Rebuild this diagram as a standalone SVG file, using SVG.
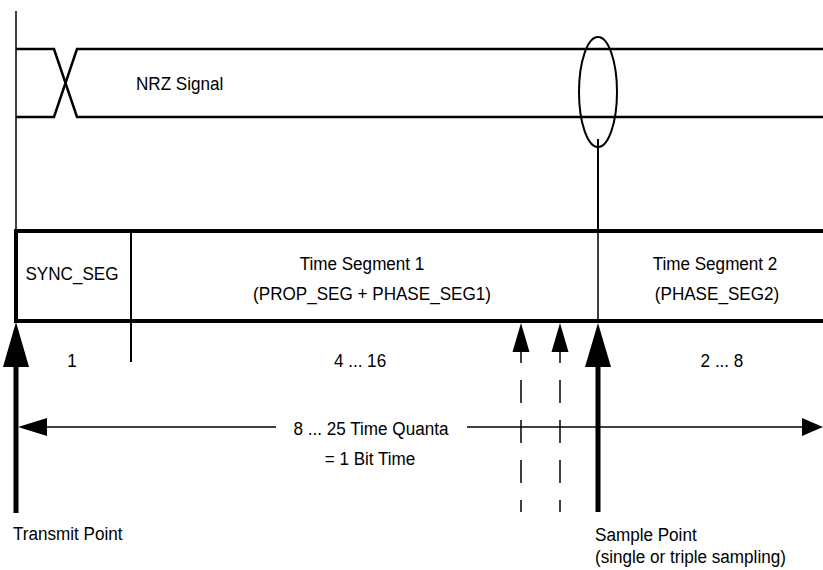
<svg xmlns="http://www.w3.org/2000/svg" width="823" height="570" viewBox="0 0 823 570">
<style>
  .t { font-family: "Liberation Sans", Arial, sans-serif; font-size: 19px; fill: #000; }
  .m { text-anchor: middle; }
  .ln { stroke: #000; fill: none; }
  .head { fill: #000; stroke: none; }
</style>
<rect width="823" height="570" fill="#fff"/>
<g id="signal">
  <line class="ln" x1="16" y1="11" x2="16" y2="231" stroke-width="1.5"/>
  <path class="ln" d="M16,49 H54 L77,117 H823" stroke-width="2.5"/>
  <path class="ln" d="M16,117 H54 L77,49 H823" stroke-width="2.5"/>
  <text class="t" transform="translate(136,90) scale(0.9,1)">NRZ Signal</text>
</g>
<g id="sample-ellipse">
  <ellipse class="ln" cx="598" cy="92" rx="19" ry="55" stroke-width="2"/>
</g>
<g id="bit-box">
  <line class="ln" x1="14" y1="231" x2="823" y2="231" stroke-width="4"/>
  <line class="ln" x1="14" y1="321" x2="823" y2="321" stroke-width="4"/>
  <line class="ln" x1="16" y1="229" x2="16" y2="323" stroke-width="4"/>
</g>
<g id="sync-seg">
  <line class="ln" x1="131" y1="231" x2="131" y2="362" stroke-width="2"/>
  <text class="t m" transform="translate(72,280) scale(0.9,1)">SYNC_SEG</text>
  <text class="t m" transform="translate(72,367) scale(0.9,1)">1</text>
</g>
<g id="time-seg1">
  <text class="t m" transform="translate(362,270) scale(0.9,1)">Time Segment 1</text>
  <text class="t m" transform="translate(372,300) scale(0.9,1)">(PROP_SEG + PHASE_SEG1)</text>
  <text class="t m" transform="translate(360,367) scale(0.9,1)">4 ... 16</text>
</g>
<g id="time-seg2">
  <text class="t m" transform="translate(715,270) scale(0.9,1)">Time Segment 2</text>
  <text class="t m" transform="translate(717,300) scale(0.9,1)">(PHASE_SEG2)</text>
  <text class="t m" transform="translate(722,367) scale(0.9,1)">2 ... 8</text>
</g>
<g id="connectors">
  <line class="ln" x1="598" y1="139" x2="598" y2="231" stroke-width="2"/>
  <line class="ln" x1="598" y1="231" x2="598" y2="322" stroke-width="1.5"/>
  <polygon class="head" points="16,322 3,367 29,367"/>
  <rect x="13.5" y="366" width="5" height="147" fill="#000"/>
  <polygon class="head" points="598,323 585,367 611,367"/>
  <rect x="595.5" y="366" width="5" height="146" fill="#000"/>
  <polygon class="head" points="521,323 512.5,352 529.5,352"/>
  <line class="ln" x1="521" y1="340" x2="521" y2="512" stroke-width="1.5" stroke-dasharray="23 17"/>
  <polygon class="head" points="560,323 551.5,352 568.5,352"/>
  <line class="ln" x1="560" y1="340" x2="560" y2="512" stroke-width="1.5" stroke-dasharray="23 17"/>
  <line class="ln" x1="45" y1="427" x2="276" y2="427" stroke-width="1.5"/>
  <line class="ln" x1="467" y1="427" x2="805" y2="427" stroke-width="1.5"/>
  <polygon class="head" points="18,427 47,418 47,436"/>
  <polygon class="head" points="823,427 802,418 802,436"/>
</g>
<g id="bit-time-label">
  <text class="t m" transform="translate(371,435) scale(0.9,1)">8 ... 25 Time Quanta</text>
  <text class="t m" transform="translate(370,465) scale(0.9,1)">= 1 Bit Time</text>
</g>
<g id="transmit-point">
  <text class="t" transform="translate(13,540) scale(0.9,1)">Transmit Point</text>
</g>
<g id="sample-point">
  <text class="t" transform="translate(595,541) scale(0.9,1)">Sample Point</text>
  <text class="t" transform="translate(595,563) scale(0.9,1)">(single or triple sampling)</text>
</g>
</svg>
